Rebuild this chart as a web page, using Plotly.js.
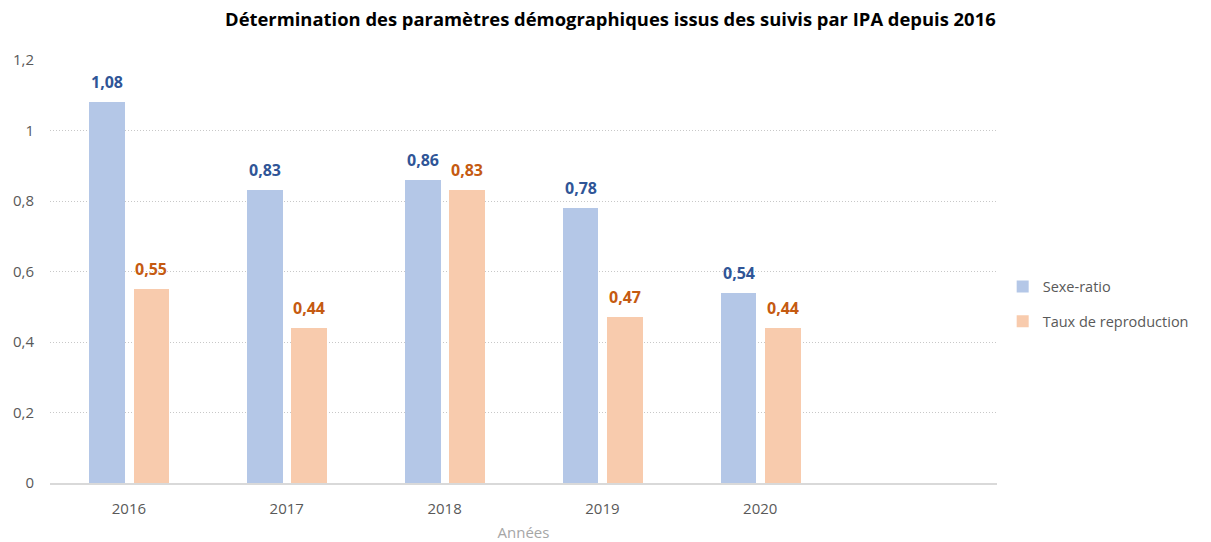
<!DOCTYPE html>
<html><head><meta charset="utf-8">
<script src="https://cdn.plot.ly/plotly-3.0.1.min.js"></script>
<style>html,body{margin:0;padding:0;background:#fff}</style>
</head><body>
<div id="chart" style="width:1211px;height:542px"></div>
<script>
const years = ['2016','2017','2018','2019','2020'];
const sexeRatio = [1.08, 0.83, 0.86, 0.78, 0.54];
const tauxReproduction = [0.55, 0.44, 0.83, 0.47, 0.44];
const seriesNames = ['Sexe-ratio', 'Taux de reproduction'];
const yTicks = [0, 0.2, 0.4, 0.6, 0.8, 1, 1.2];

const FONT = 'Open Sans, Liberation Sans, sans-serif';
const idx = years.map((_, i) => i);
const W = 0.225, OFF1 = -0.25, OFF2 = 0.03;

const traces = [
  {type:'bar', name:seriesNames[0], x:idx, y:sexeRatio, width:W, offset:OFF1,
   marker:{color:'#B4C7E7'}, legendgroup:'a', hoverinfo:'y'},
  {type:'bar', name:seriesNames[1], x:idx, y:tauxReproduction, width:W, offset:OFF2,
   marker:{color:'#F8CBAD'}, legendgroup:'b', hoverinfo:'y'}
];

const fmt = v => v.toFixed(2).replace('.', ',');
const annotations = [];
sexeRatio.forEach((v,i)=>annotations.push({x:i+OFF1+W/2, y:v, xref:'x', yref:'y', text:'<b>'+fmt(v)+'</b>',
  showarrow:false, yanchor:'middle', yshift:20, font:{family:FONT, size:16, color:'#2F5597'}}));
tauxReproduction.forEach((v,i)=>annotations.push({x:i+OFF2+W/2, y:v, xref:'x', yref:'y', text:'<b>'+fmt(v)+'</b>',
  showarrow:false, yanchor:'middle', yshift:20, font:{family:FONT, size:16, color:'#C55A11'}}));

const layout = {
  width:1211, height:542,
  margin:{l:50, r:214, t:60, b:59, autoexpand:false},
  paper_bgcolor:'#fff', plot_bgcolor:'#fff',
  separators:', ',
  title:{text:'<b>Détermination des paramètres démographiques issus des suivis par IPA depuis 2016</b>',
    font:{family:FONT, size:18.4, color:'#000'}, x:0.504, xanchor:'center', y:0.963, yanchor:'middle', yref:'container'},
  xaxis:{range:[-0.5,5.5], tickvals:idx, ticktext:years, showgrid:false, zeroline:false,
    showline:true, linecolor:'#D9D9D9', linewidth:1.5, ticks:'', fixedrange:true,
    tickfont:{family:FONT, size:15, color:'#595959'}, ticklabelstandoff:11,
    title:{text:'Années', font:{family:FONT, size:15, color:'#A6A6A6'}, standoff:22}},
  yaxis:{range:[0,1.2], tickvals:yTicks, ticktext:yTicks.map(v=>String(v).replace('.',',')),
    showgrid:true, gridcolor:'#C8C8C8', griddash:'1px,2px', gridwidth:1, zeroline:false, showline:false,
    tickfont:{family:FONT, size:15, color:'#595959'}, ticklabelstandoff:15, ticks:''},
  showlegend:true,
  legend:{x:1.006, xanchor:'left', y:0.423, yanchor:'middle', traceorder:'grouped', tracegroupgap:13,
    font:{family:FONT, size:14.5, color:'#595959'}, itemwidth:30},
  annotations:annotations,
  bargap:0, hovermode:false
};
Plotly.newPlot('chart', traces, layout, {displayModeBar:false, staticPlot:true});
</script>
</body></html>
